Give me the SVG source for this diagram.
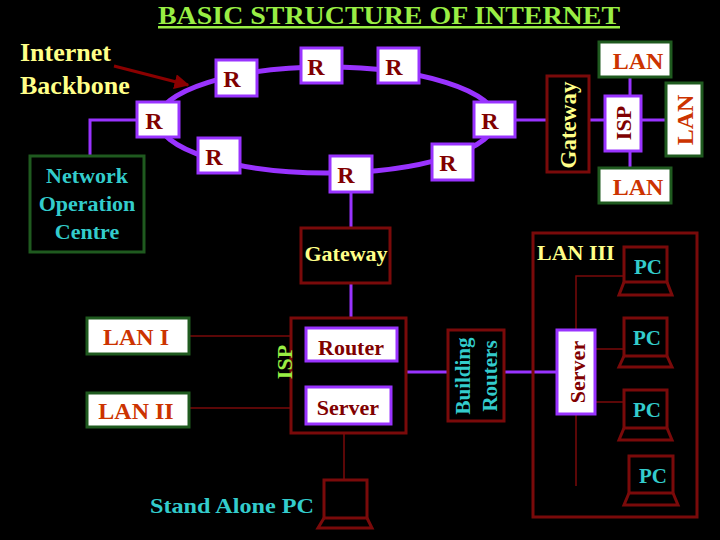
<svg xmlns="http://www.w3.org/2000/svg" width="720" height="540" viewBox="0 0 720 540">
<defs>
<style>
text{font-family:"Liberation Serif","DejaVu Serif",serif;font-weight:bold}
.r rect{fill:#fff;stroke:#9933ff;stroke-width:3}
.r text{fill:#800000;font-size:24px;text-anchor:middle}
.g{fill:#fff;stroke:#1f5a1f;stroke-width:3}
.lt{fill:#cc3300;font-size:24px;text-anchor:middle}
.dr{fill:none;stroke:#7a0a0a;stroke-width:3}
.pl{stroke:#9933ff;stroke-width:3;fill:none}
.tl{stroke:#7a0a0a;stroke-width:1.5;fill:none}
.pc{fill:none;stroke:#7a0a0a;stroke-width:3}
.cy{fill:#33cccc}
</style>
<marker id="ah" viewBox="0 0 10 10" refX="9" refY="5" markerWidth="5" markerHeight="5" orient="auto"><path d="M0,0L10,5L0,10z" fill="#8b0000"/></marker>
</defs>
<rect width="720" height="540" fill="#000"/>
<text x="158" y="24" font-size="25" fill="#99ee44" text-decoration="underline" textLength="462" lengthAdjust="spacingAndGlyphs">BASIC STRUCTURE OF INTERNET</text>
<g id="label-backbone"><text x="20" y="61" font-size="26" fill="#ffff88">Internet</text><text x="20" y="94" font-size="26" fill="#ffff88">Backbone</text></g>
<g id="connectors">
<ellipse cx="327" cy="120" rx="169" ry="53" fill="none" stroke="#9933ff" stroke-width="5"/>
<line x1="114" y1="66" x2="188" y2="85" stroke="#8b0000" stroke-width="3" marker-end="url(#ah)"/>
<polyline class="pl" points="90,156 90,120 137,120"/>
<line class="pl" x1="351" y1="192" x2="351" y2="228"/>
<line class="pl" x1="351" y1="283" x2="351" y2="318"/>
<line class="pl" x1="515" y1="120" x2="547" y2="120"/>
<line class="pl" x1="589" y1="120" x2="605" y2="120"/>
<line class="pl" x1="641" y1="120" x2="666" y2="120"/>
<line class="pl" x1="630" y1="77" x2="630" y2="96"/>
<line class="pl" x1="630" y1="151" x2="630" y2="168"/>
<line class="pl" x1="406" y1="372" x2="448" y2="372"/>
<line class="pl" x1="504" y1="372" x2="557" y2="372"/>
<line class="tl" x1="189" y1="336" x2="291" y2="336"/>
<line class="tl" x1="189" y1="408" x2="291" y2="408"/>
<line class="tl" x1="344" y1="433" x2="344" y2="480"/>
<polyline class="tl" points="624,276 576,276 576,486"/>
<line class="tl" x1="595" y1="349" x2="624" y2="349"/>
<line class="tl" x1="595" y1="402" x2="624" y2="402"/>
</g>
<g id="routers" class="r">
<g id="r1"><rect x="216" y="60" width="41" height="36"/><text x="232" y="87">R</text></g>
<g id="r2"><rect x="301" y="48" width="41" height="35"/><text x="316" y="75">R</text></g>
<g id="r3"><rect x="378" y="48" width="41" height="35"/><text x="394" y="75">R</text></g>
<g id="r4"><rect x="137" y="102" width="42" height="35"/><text x="154" y="129">R</text></g>
<g id="r5"><rect x="474" y="102" width="41" height="35"/><text x="490" y="129">R</text></g>
<g id="r6"><rect x="198" y="138" width="42" height="35"/><text x="214" y="165">R</text></g>
<g id="r7"><rect x="330" y="156" width="42" height="36"/><text x="346" y="183">R</text></g>
<g id="r8"><rect x="432" y="144" width="41" height="36"/><text x="448" y="171">R</text></g>
</g>
<g id="noc"><rect x="30" y="156" width="114" height="96" fill="none" stroke="#1f5a1f" stroke-width="3"/>
<text class="cy" x="87" y="183" font-size="22" text-anchor="middle">Network</text>
<text class="cy" x="87" y="211" font-size="22" text-anchor="middle">Operation</text>
<text class="cy" x="87" y="239" font-size="22" text-anchor="middle">Centre</text></g>
<g id="gateway-bottom"><rect class="dr" x="301" y="228" width="89" height="55"/><text x="346" y="261" font-size="22" fill="#ffff88" text-anchor="middle">Gateway</text></g>
<g id="gateway-right"><rect class="dr" x="547" y="76" width="42" height="96"/><text transform="translate(576,125) rotate(-90)" font-size="23" fill="#ffff88" text-anchor="middle">Gateway</text></g>
<g id="isp-right"><rect x="605" y="96" width="36" height="55" fill="#fff" stroke="#9933ff" stroke-width="3"/><text transform="translate(631,123) rotate(-90)" font-size="22" fill="#800000" text-anchor="middle">ISP</text></g>
<g id="lan-top"><rect class="g" x="599" y="42" width="72" height="35"/><text class="lt" x="638" y="69">LAN</text></g>
<g id="lan-right"><rect class="g" x="666" y="83" width="36" height="73"/><text class="lt" transform="translate(693,120) rotate(-90)">LAN</text></g>
<g id="lan-bottom"><rect class="g" x="599" y="168" width="72" height="35"/><text class="lt" x="638" y="195">LAN</text></g>
<g id="lan1"><rect class="g" x="87" y="318" width="102" height="36"/><text class="lt" x="136" y="345">LAN I</text></g>
<g id="lan2"><rect class="g" x="87" y="393" width="102" height="34"/><text class="lt" x="136" y="419">LAN II</text></g>
<g id="isp"><rect class="dr" x="291" y="318" width="115" height="115"/>
<text transform="translate(292,362) rotate(-90)" font-size="22" fill="#99ee44" text-anchor="middle">ISP</text>
<g id="router"><rect x="306" y="328" width="91" height="33" fill="#fff" stroke="#9933ff" stroke-width="3"/><text x="351" y="355" font-size="22" fill="#800000" text-anchor="middle">Router</text></g>
<g id="server-isp"><rect x="306" y="387" width="85" height="37" fill="#fff" stroke="#9933ff" stroke-width="3"/><text x="348" y="415" font-size="22" fill="#800000" text-anchor="middle">Server</text></g></g>
<g id="standalone"><rect class="pc" x="324" y="480" width="43" height="38"/><path class="pc" d="M324,518 L318,528 L372,528 L367,518"/>
<text class="cy" x="150" y="513" font-size="22" textLength="164" lengthAdjust="spacingAndGlyphs">Stand Alone PC</text></g>
<g id="building-routers"><rect class="dr" x="448" y="330" width="56" height="91"/>
<text class="cy" transform="translate(470,376) rotate(-90)" font-size="21" text-anchor="middle">Building</text>
<text class="cy" transform="translate(497,376) rotate(-90)" font-size="21" text-anchor="middle">Routers</text></g>
<g id="lan3"><rect class="dr" x="533" y="233" width="164" height="284"/><text x="537" y="260" font-size="22" fill="#ffff88">LAN III</text></g>
<g id="server"><rect x="557" y="330" width="38" height="84" fill="#fff" stroke="#9933ff" stroke-width="3"/><text transform="translate(585,372) rotate(-90)" font-size="22" fill="#800000" text-anchor="middle">Server</text></g>
<g id="pc1"><rect class="pc" x="624" y="247" width="43" height="35"/><path class="pc" d="M624,282 L619,295 L672,295 L667,282"/><text class="cy" x="648" y="274" font-size="21" text-anchor="middle">PC</text></g>
<g id="pc2"><rect class="pc" x="624" y="318" width="43" height="38"/><path class="pc" d="M624,356 L619,367 L672,367 L667,356"/><text class="cy" x="647" y="345" font-size="21" text-anchor="middle">PC</text></g>
<g id="pc3"><rect class="pc" x="624" y="390" width="43" height="38"/><path class="pc" d="M624,428 L619,440 L672,440 L667,428"/><text class="cy" x="647" y="417" font-size="21" text-anchor="middle">PC</text></g>
<g id="pc4"><rect class="pc" x="629" y="456" width="44" height="37"/><path class="pc" d="M629,493 L624,505 L678,505 L673,493"/><text class="cy" x="653" y="483" font-size="21" text-anchor="middle">PC</text></g>
</svg>
